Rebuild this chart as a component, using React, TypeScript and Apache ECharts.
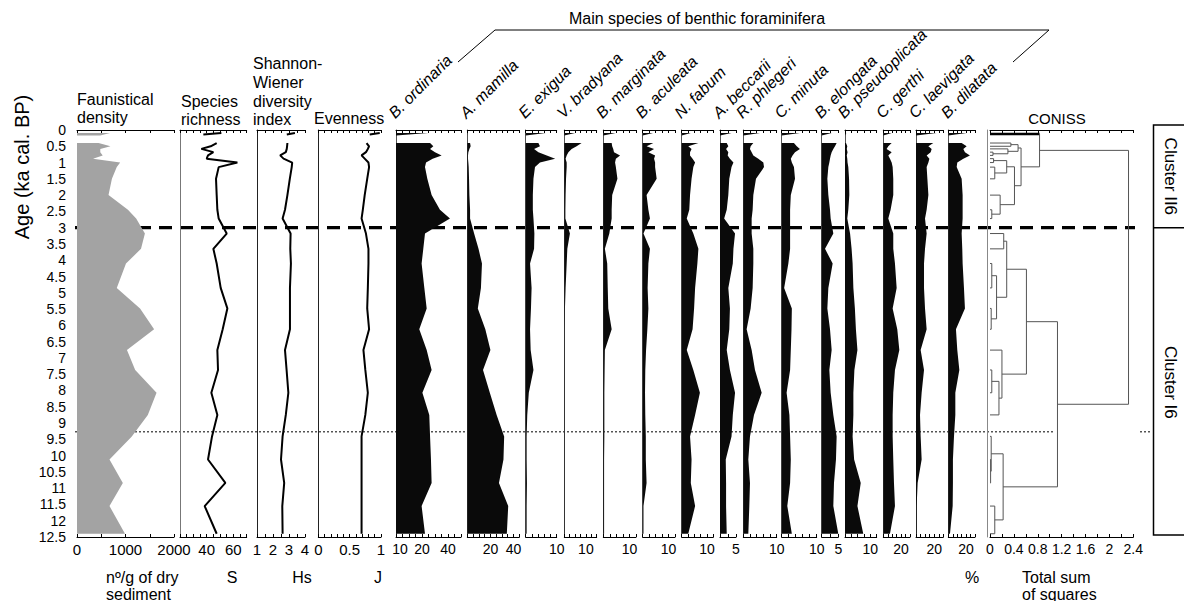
import React, { useEffect, useRef } from 'react';
import * as echarts from 'echarts';

const FONT = '"Liberation Sans", Arial, Helvetica, sans-serif';

// Sample ages (ka cal. BP) shared by every profile
const AGES = [0.4, 0.5, 0.58, 0.68, 0.78, 0.88, 1.0, 1.14, 1.5, 2.0, 2.45, 2.72, 3.18, 3.65, 4.1, 4.85, 5.48, 6.12, 6.76, 7.37, 8.07, 8.75, 9.41, 10.12, 10.84, 11.55, 12.4];
// Core-top sample drawn as a separate sliver
const TOP_AGES = [0.09, 0.17];
const AGE_TICK_STEP = 0.5;
const AGE_MAX = 12.5;
const BOUNDARY_AGE = 3;
const DOTTED_AGE = 9.27;

// Faunistical density (n/g of dry sediment)
const DENSITY = [445, 690, 480, 480, 530, 330, 890, 820, 720, 650, 1050, 1220, 1400, 1320, 1010, 820, 1300, 1590, 1030, 1200, 1640, 1460, 1130, 670, 945, 670, 990];
const DENSITY_TOP = [680, 480];
// Species richness S
const RICHNESS = [47.5, 43, 36, 45, 41, 40, 63, 49, 47, 47.5, 48, 49, 55, 45, 47.5, 50.5, 55.5, 52, 48, 48.5, 43.5, 48, 44, 41, 54, 38.5, 47.5];
const RICHNESS_TOP = [51, 37.5];
// Shannon-Wiener index Hs
const SHANNON = [2.9, 2.88, 2.86, 2.8, 2.45, 2.66, 3.2, 3.17, 3.05, 2.9, 2.75, 2.6, 3.1, 3.08, 3.12, 3.06, 3.06, 3.06, 2.75, 2.85, 2.96, 2.8, 2.6, 2.5, 2.7, 2.58, 2.6];
const SHANNON_TOP = [3.37, 2.86];
// Evenness J
const EVENNESS = [0.77, 0.81, 0.79, 0.76, 0.69, 0.74, 0.8, 0.81, 0.78, 0.74, 0.71, 0.69, 0.76, 0.8, 0.8, 0.79, 0.78, 0.81, 0.72, 0.75, 0.79, 0.75, 0.69, 0.69, 0.69, 0.69, 0.69];
const EVENNESS_TOP = [0.98, 0.82];

// Main benthic foraminifera (%)
const B_ORDINARIA = [26.2, 28.7, 26.2, 30, 35.1, 28.2, 23.1, 22.3, 24.1, 27.4, 33.8, 41.5, 22.3, 21, 19.7, 21.8, 23.6, 17.9, 23.6, 27.4, 20.3, 25.6, 26.2, 26.9, 27.4, 19.7, 22.3];
const A_MAMILLA = [2.4, 2.9, 1.8, 0.9, 0.6, 0.6, 0.9, 1.2, 1.5, 1.8, 2.4, 2.4, 5.9, 9.7, 12.7, 11.8, 9.1, 15.6, 20, 13.6, 19.5, 25.4, 31.9, 31.3, 27.4, 35.4, 34.2];
const E_EXIGUA = [4.1, 4.6, 2.7, 4.1, 6.8, 9.5, 4.6, 3, 2.5, 2.3, 2.3, 2.5, 2.8, 2.7, 1.4, 1.9, 1.7, 1.4, 1.6, 2.5, 1, 0.5, 0.3, 0.3, 0.4, 0.3, 0.3];
const V_BRADYANA = [8, 5.7, 3.4, 1.9, 1.1, 0.6, 1.1, 1.1, 0.8, 0.6, 0.5, 0.5, 2.6, 1.4, 1.1, 0.6, 0.3, 0.2, 0.2, 0.2, 0.2, 0.2, 0.2, 0.2, 0.2, 0.2, 0.2];
const B_MARGINATA = [3.2, 3.4, 3.8, 4.1, 6.4, 4.8, 4.5, 4.8, 5.4, 3.4, 3.2, 3.2, 2.3, 0.6, 1.5, 1.7, 1.9, 3.2, 0.6, 0.5, 0.4, 0.4, 0.4, 0.3, 0.3, 0.3, 0.3];
const B_ACULEATA = [4.1, 1.5, 4.4, 2.2, 4.8, 4.4, 4.8, 4.8, 5.4, 1.5, 2.2, 2.8, 0.3, 2.8, 2.2, 1.9, 2.2, 1.8, 1.3, 1, 0.9, 1, 1.2, 1.2, 1.5, 0.3, 0.3];
const N_FABUM = [6.6, 2.6, 3.9, 3.3, 3.3, 4.3, 5.3, 4.6, 3.9, 3.3, 3, 2, 4.6, 6.6, 6.2, 5.3, 4.9, 4.3, 2, 4.6, 7.2, 5.3, 3.3, 3.9, 3.6, 5.3, 2.6];
const A_BECCARII = [2.1, 2.6, 1.9, 2.6, 2.4, 3.1, 4.2, 3.6, 2.9, 2.6, 2.1, 1.3, 4.7, 4.2, 4, 2.6, 3.1, 2.9, 2.1, 3.1, 4.7, 4, 3.6, 1.8, 1.9, 1.9, 2.1];
const R_PHLEGERI = [3, 2.2, 2, 2.5, 3, 4.5, 6, 6.2, 3.8, 3, 2.8, 2.5, 2.5, 3, 3, 2.8, 2.2, 1, 2.5, 3.5, 5.5, 3.2, 2, 1.5, 2, 1.8, 1.5];
const C_MINUTA = [3.5, 4.3, 5.2, 3.8, 3.1, 2.6, 2.9, 3.5, 3.8, 2.6, 2.4, 2.4, 2.4, 2.4, 1.9, 0.7, 2.9, 2.8, 2.6, 2.4, 1.4, 2.2, 2.4, 2.6, 2.4, 1.6, 2.9];
const B_ELONGATA = [4.5, 4, 3.5, 3, 2.7, 2.5, 2.3, 2, 1.7, 2, 2.5, 2.7, 3.5, 1, 3.3, 2, 1.7, 2.5, 3, 2.3, 2.7, 3.5, 4.5, 4.3, 3.7, 3.5, 5];
const B_PSEUDOPLICATA = [0.4, 0.9, 0.7, 1, 0.7, 0.9, 1, 1.3, 1.6, 1.7, 1.3, 0.9, 2, 2.6, 3, 3.3, 3.9, 4.3, 4.9, 3.7, 3.3, 3.3, 3, 3.6, 6.2, 4.9, 7.2];
const C_GERTHI = [9.4, 5.6, 3.7, 9.4, 5.6, 7.5, 9.4, 10.5, 11.2, 11.2, 8.2, 5.6, 11.2, 11.2, 13.1, 15, 10.5, 15.7, 18, 13.1, 11.2, 10.5, 10.5, 11.2, 12, 13.1, 7.5];
const C_LAEVIGATA = [19, 13.6, 17.2, 16.1, 11.7, 14.7, 13.6, 11.7, 12.5, 13.6, 11.7, 9.9, 11.7, 9.9, 8.8, 8.8, 9.9, 11.7, 5.1, 8.8, 6.2, 4.4, 5.1, 6.2, 1.8, 0.7, 0.7];
const B_DILATATA = [15, 20.6, 16.9, 18.7, 24.3, 16.9, 10.1, 9.4, 15, 16.1, 16.1, 16.1, 15, 15.7, 16.1, 17.6, 18.7, 8.6, 10.1, 12.4, 7.9, 7.9, 6.4, 5.2, 5.2, 4.9, 1.9];

const SPECIES_NAMES = ['B. ordinaria', 'A. mamilla', 'E. exigua', 'V. bradyana', 'B. marginata', 'B. aculeata', 'N. fabum', 'A. beccarii', 'R. phlegeri', 'C. minuta', 'B. elongata', 'B. pseudoplicata', 'C. gerthi', 'C. laevigata', 'B. dilatata'];
const SPECIES_VALUES = [B_ORDINARIA, A_MAMILLA, E_EXIGUA, V_BRADYANA, B_MARGINATA, B_ACULEATA, N_FABUM, A_BECCARII, R_PHLEGERI, C_MINUTA, B_ELONGATA, B_PSEUDOPLICATA, C_GERTHI, C_LAEVIGATA, B_DILATATA];
const SPECIES_TOP = [25, 0.3, 6.5, 5, 4.7, 4, 3.6, 3.6, 5, 5.2, 3, 0.5, 9.4, 22.7, 20.6];
// Axis maxima, tick steps and labelled values of each species scale
const SPECIES_MAX = [50, 45, 10, 15, 12.5, 12.5, 12.5, 5, 10, 10, 5, 12.5, 30, 30, 30];
const SPECIES_STEP = [5, 5, 2, 2.5, 2.5, 2.5, 2.5, 2.5, 2, 2, 2.5, 2.5, 5, 5, 5];
const SPECIES_TICK_LABELS = [[10, 20, 40], [20, 40], [10], [10], [10], [10], [10], [5], [10], [10], [5], [10], [20], [20], [20]];

// CONISS dendrogram: leaf ages and successive merges [childA, childB, total sum of squares]
const CONISS_LEAVES = [0.12, ...AGES];
const CONISS_MERGES: [string, string, number][] = [
  ['L1', 'L2', 0.35], ['L4', 'L5', 0.05], ['L3', 'N1', 0.3], ['N0', 'N2', 0.47],
  ['L6', 'L7', 0.06], ['L8', 'L9', 0.08], ['N4', 'N5', 0.28], ['L11', 'L12', 0.03],
  ['L10', 'N7', 0.17], ['N6', 'N8', 0.41], ['N3', 'N9', 0.52], ['L0', 'N10', 0.83],
  ['L13', 'L14', 0.23], ['L15', 'L16', 0.03], ['L17', 'L18', 0.02], ['N13', 'N14', 0.11],
  ['N12', 'N15', 0.28], ['L20', 'L21', 0.03], ['N17', 'L22', 0.15], ['L19', 'N18', 0.2],
  ['N16', 'N19', 0.61], ['L24', 'L25', 0.01], ['L23', 'N21', 0.02], ['L26', 'L27', 0.08],
  ['N22', 'N23', 0.22], ['N20', 'N24', 1.13], ['N11', 'N25', 2.32],
];
const CONISS_MAX = 2.4;
const CONISS_STEP = 0.2;
const CONISS_TICK_LABELS = [0, 0.4, 0.8, 1.2, 1.6, 2, 2.4];

// Panel layout (pixels)
const PLOT_TOP = 130;
const PLOT_HEIGHT = 407;
const SPECIES_BOUNDS: [number, number][] = [
  [396, 461], [467.3, 519.3], [525.7, 556.7], [564.3, 596.7], [603.3, 636], [642.7, 675], [681.7, 713.3],
  [720, 736], [743.3, 776.7], [781.7, 816.7], [821.7, 838.3], [845, 876.7], [883.3, 910], [916, 943.3], [948.3, 975],
];

type Panel = {
  left: number; right: number; min: number; max: number; step: number; labels: number[];
  labelSize: number; leftLine: string | null; ageLabels?: boolean; nudged?: number[];
};

const PANELS: Panel[] = [
  { left: 77, right: 174, min: 0, max: 2000, step: 500, labels: [0, 1000, 2000], labelSize: 15, leftLine: null, ageLabels: true },
  { left: 180, right: 246.7, min: 20, max: 70, step: 5, labels: [40, 60], labelSize: 15, leftLine: '#777' },
  { left: 257, right: 305, min: 1, max: 4, step: 0.5, labels: [1, 2, 3, 4], labelSize: 15, leftLine: '#222' },
  { left: 318.3, right: 381, min: 0, max: 1, step: 0.1, labels: [0, 0.5, 1], labelSize: 15, leftLine: '#222' },
  ...SPECIES_BOUNDS.map(([l, r], i) => ({
    left: l, right: r, min: 0, max: SPECIES_MAX[i], step: SPECIES_STEP[i], labels: SPECIES_TICK_LABELS[i],
    labelSize: 14, leftLine: '#555', nudged: i === 0 ? [10] : [],
  })),
  { left: 990, right: 1133.3, min: 0, max: CONISS_MAX, step: CONISS_STEP, labels: CONISS_TICK_LABELS, labelSize: 14, leftLine: '#888' },
];

function polygonSeries(panel: number, ages: number[], vals: number[], fill: string) {
  return {
    type: 'custom',
    coordinateSystem: 'cartesian2d',
    xAxisIndex: panel * 2,
    yAxisIndex: panel,
    silent: true,
    data: vals.map((v, i) => [v, ages[i]]),
    renderItem: (params: any, api: any) => {
      if (params.dataIndex !== 0) return null;
      const pts = [api.coord([0, ages[0]])];
      vals.forEach((v, i) => pts.push(api.coord([v, ages[i]])));
      pts.push(api.coord([0, ages[ages.length - 1]]));
      return { type: 'polygon', shape: { points: pts }, style: { fill } };
    },
  };
}

function lineSeries(panel: number, ages: number[], vals: number[]) {
  return {
    type: 'line',
    xAxisIndex: panel * 2,
    yAxisIndex: panel,
    silent: true,
    symbol: 'none',
    showSymbol: false,
    data: vals.map((v, i) => [v, ages[i]]),
    lineStyle: { color: '#000', width: 2 },
  };
}

function dendrogramSeries(panel: number) {
  return {
    type: 'custom',
    coordinateSystem: 'cartesian2d',
    xAxisIndex: panel * 2,
    yAxisIndex: panel,
    silent: true,
    data: CONISS_MERGES.map((m) => [m[2], 0]),
    renderItem: (params: any, api: any) => {
      if (params.dataIndex !== 0) return null;
      const pos: Record<string, number> = {};
      const hgt: Record<string, number> = {};
      CONISS_LEAVES.forEach((a, i) => { pos['L' + i] = a; hgt['L' + i] = 0; });
      const children: any[] = [];
      const seg = (x1: number, a1: number, x2: number, a2: number, stroke: string, lineWidth: number) => {
        const p1 = api.coord([x1, a1]);
        const p2 = api.coord([x2, a2]);
        children.push({ type: 'line', shape: { x1: p1[0], y1: p1[1], x2: p2[0], y2: p2[1] }, style: { stroke, lineWidth } });
      };
      CONISS_MERGES.forEach(([a, b, h], k) => {
        const id = 'N' + k;
        pos[id] = (pos[a] + pos[b]) / 2;
        hgt[id] = h;
        [a, b].forEach((c) => {
          const thick = c === 'L0';
          seg(hgt[c], pos[c], h, pos[c], thick ? '#000' : '#555', thick ? 2.5 : 1);
        });
        seg(h, pos[a], h, pos[b], '#555', 1);
      });
      return { type: 'group', children };
    },
  };
}

export default function App() {
  const ref = useRef<HTMLDivElement>(null);

  useEffect(() => {
    if (!ref.current) return;
    const chart = echarts.init(ref.current, null, { renderer: 'svg' });

    const grid: any[] = [];
    const xAxis: any[] = [];
    const yAxis: any[] = [];
    PANELS.forEach((p, i) => {
      grid.push({ left: p.left, top: PLOT_TOP, width: p.right - p.left, height: PLOT_HEIGHT });
      const base = {
        gridIndex: i, type: 'value', min: p.min, max: p.max, interval: p.step,
        axisLine: { show: true, onZero: false, lineStyle: { color: '#000', width: 1 } },
        axisTick: { show: true, inside: true, length: 3, lineStyle: { color: '#000', width: 1 } },
        splitLine: { show: false },
      };
      const nudged = p.nudged || [];
      xAxis.push({
        ...base, position: 'bottom',
        axisLabel: {
          show: true, margin: 5, color: '#000', fontSize: p.labelSize, fontFamily: FONT,
          hideOverlap: false, showMinLabel: true, showMaxLabel: true,
          formatter: (v: number) => {
            if (!p.labels.some((l) => Math.abs(l - v) < 1e-6)) return '';
            const s = String(+v.toFixed(2));
            return nudged.some((l) => Math.abs(l - v) < 1e-6) ? `{n|${s}}` : s;
          },
          rich: { n: { padding: [0, 18, 0, 0], fontSize: p.labelSize, color: '#000', fontFamily: FONT } },
        },
      });
      xAxis.push({ ...base, position: 'top', axisLabel: { show: false } });
      yAxis.push({
        gridIndex: i, type: 'value', inverse: true, min: 0, max: AGE_MAX, interval: AGE_TICK_STEP,
        offset: i === PANELS.length - 1 ? 3 : 0,
        axisLine: { show: !!p.leftLine, onZero: false, lineStyle: { color: p.leftLine || '#000', width: 1 } },
        axisTick: { show: false },
        splitLine: { show: false },
        axisLabel: p.ageLabels
          ? { show: true, margin: 11, color: '#000', fontSize: 14, fontFamily: FONT, showMinLabel: true, showMaxLabel: true }
          : { show: false },
      });
    });

    const series: any[] = [
      polygonSeries(0, AGES, DENSITY, '#a3a3a3'),
      polygonSeries(0, TOP_AGES, [...DENSITY_TOP], '#a3a3a3'),
      lineSeries(1, AGES, RICHNESS),
      lineSeries(1, [TOP_AGES[0], TOP_AGES[0] + 0.05], RICHNESS_TOP),
      lineSeries(2, AGES, SHANNON),
      lineSeries(2, [TOP_AGES[0], TOP_AGES[0] + 0.05], SHANNON_TOP),
      lineSeries(3, AGES, EVENNESS),
      lineSeries(3, [TOP_AGES[0], TOP_AGES[0] + 0.05], EVENNESS_TOP),
    ];
    SPECIES_VALUES.forEach((vals, i) => {
      series.push(polygonSeries(4 + i, AGES, vals, '#0a0a0a'));
      series.push(polygonSeries(4 + i, TOP_AGES, [SPECIES_TOP[i], 0], '#0a0a0a'));
    });
    series.push(dendrogramSeries(PANELS.length - 1));

    chart.setOption({
      animation: false,
      backgroundColor: '#fff',
      textStyle: { fontFamily: FONT },
      grid, xAxis, yAxis, series,
    });

    const yOf = (age: number) => chart.convertToPixel({ xAxisIndex: 0, yAxisIndex: 0 }, [0, age])[1];
    const yBoundary = yOf(BOUNDARY_AGE);
    const yDotted = yOf(DOTTED_AGE);
    const yTop = yOf(0);
    const yBottom = yOf(AGE_MAX);

    const txt = (text: string, x: number, y: number, size: number, extra: any = {}, elExtra: any = {}) => ({
      type: 'text', x, y, silent: true, ...elExtra,
      style: { text, fill: '#000', font: `${size}px ${FONT}`, textAlign: 'left', textVerticalAlign: 'middle', ...extra },
    });

    const graphic: any[] = [
      // column titles
      txt('Faunistical', 77, 99, 16), txt('density', 77, 117, 16),
      txt('Species', 181, 101, 16), txt('richness', 181, 119, 16),
      txt('Shannon-', 253, 63, 16), txt('Wiener', 253, 82, 16), txt('diversity', 253, 101, 16), txt('index', 253, 119, 16),
      txt('Evenness', 314, 118, 16),
      txt('CONISS', 1057, 118, 15, { textAlign: 'center' }),
      txt('Main species of benthic foraminifera', 697, 18, 16, { textAlign: 'center' }),
      // units
      txt('nº/g of dry', 106, 577, 16), txt('sediment', 106, 594, 16),
      txt('S', 232, 577, 16, { textAlign: 'center' }),
      txt('Hs', 302, 577, 16, { textAlign: 'center' }),
      txt('J', 378, 577, 16, { textAlign: 'center' }),
      txt('%', 972, 577, 16, { textAlign: 'center' }),
      txt('Total sum', 1022, 577, 16), txt('of squares', 1022, 594, 16),
      // age axis title
      txt('Age (ka cal. BP)', 22, 167, 20, { textAlign: 'center' }, { rotation: Math.PI / 2 }),
      // bracket over the species block
      {
        type: 'polyline', silent: true,
        shape: { points: [[458, 62], [495, 30], [1049, 30], [1013, 62]] },
        style: { stroke: '#000', lineWidth: 1, fill: null },
      },
      // zone boundary and reference level
      { type: 'line', silent: true, shape: { x1: 75, y1: yBoundary, x2: 1135, y2: yBoundary }, style: { stroke: '#000', lineWidth: 3.2, lineDash: [13, 8] } },
      { type: 'line', silent: true, shape: { x1: 75, y1: yDotted, x2: 1055, y2: yDotted }, style: { stroke: '#000', lineWidth: 1, lineDash: [2, 2] } },
      { type: 'line', silent: true, shape: { x1: 1140, y1: yDotted, x2: 1151, y2: yDotted }, style: { stroke: '#000', lineWidth: 1, lineDash: [2, 2] } },
      // cluster zones
      { type: 'polyline', silent: true, shape: { points: [[1190, yTop - 5], [1153.5, yTop - 5], [1153.5, yBottom - 2], [1190, yBottom - 2]] }, style: { stroke: '#000', lineWidth: 1.5, fill: null } },
      { type: 'line', silent: true, shape: { x1: 1153.5, y1: yBoundary, x2: 1190, y2: yBoundary }, style: { stroke: '#000', lineWidth: 1.5 } },
      txt('Cluster II6', 1170, (yTop - 5 + yBoundary) / 2, 17, { textAlign: 'center' }, { rotation: -Math.PI / 2 }),
      txt('Cluster I6', 1170, (yBoundary + yBottom) / 2, 17, { textAlign: 'center' }, { rotation: -Math.PI / 2 }),
    ];
    // rotated species names
    SPECIES_NAMES.forEach((name, i) => {
      graphic.push(txt(name, SPECIES_BOUNDS[i][0] + 1, 121, 16, { font: `italic 16px ${FONT}`, textVerticalAlign: 'bottom' }, { rotation: Math.PI / 4 }));
    });

    chart.setOption({ graphic });

    return () => chart.dispose();
  }, []);

  return <div ref={ref} style={{ position: 'fixed', left: 0, top: 0, width: 1184, height: 601, background: '#fff' }} />;
}
